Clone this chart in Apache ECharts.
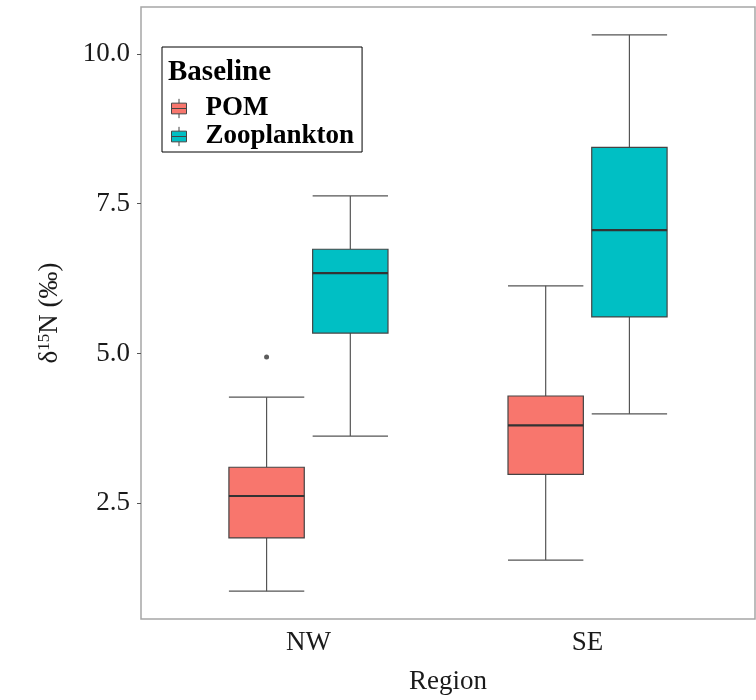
<!DOCTYPE html>
<html>
<head>
<meta charset="utf-8">
<script src="https://cdn.jsdelivr.net/npm/echarts@6/dist/echarts.min.js"></script>
<style>
  html, body { margin: 0; padding: 0; background: #fff; }
  #chart { width: 756px; height: 700px; }
</style>
</head>
<body>
<div id="chart"></div>
<script>
// data (min, Q1, median, Q3, max)
const categories = ["NW", "SE"];
const seriesNames = ["POM", "Zooplankton"];
const pomStats = [
  [1.03, 1.92, 2.62, 3.10, 4.27],
  [1.55, 2.98, 3.80, 4.29, 6.13],
];
const zooStats = [
  [3.62, 5.34, 6.34, 6.74, 7.63],
  [3.99, 5.61, 7.06, 8.44, 10.32],
];
// outliers: [category index, value]
const pomOutliers = [[0, 4.94]];
const zooOutliers = [];
const yTicks = [2.5, 5.0, 7.5, 10.0];

const colors = ["#F8766D", "#00BFC4"];
const font = "'Liberation Serif', 'Times New Roman', serif";
const yMin = 0.566, yMax = 10.785;
const dodge = 0.15;   // offset of each box from the category centre (axis units)
const boxW = 0.27;    // box width (axis units)

function boxData(stats) {
  return stats.map((s, i) => [i + 1].concat(s));
}

function boxRenderer(offset) {
  return function (params, api) {
    const x = api.value(0) + offset;
    const left = api.coord([x - boxW / 2, 0])[0];
    const right = api.coord([x + boxW / 2, 0])[0];
    const cx = api.coord([x, 0])[0];
    const yv = [1, 2, 3, 4, 5].map((k) => api.coord([x, api.value(k)])[1]);
    const [pMin, pQ1, pMed, pQ3, pMax] = yv;
    const lineStyle = { stroke: "#555", lineWidth: 1.2 };
    return {
      type: "group",
      children: [
        { type: "line", shape: { x1: cx, y1: pMax, x2: cx, y2: pQ3 }, style: lineStyle },
        { type: "line", shape: { x1: cx, y1: pQ1, x2: cx, y2: pMin }, style: lineStyle },
        { type: "line", shape: { x1: left, y1: pMax, x2: right, y2: pMax }, style: lineStyle },
        { type: "line", shape: { x1: left, y1: pMin, x2: right, y2: pMin }, style: lineStyle },
        {
          type: "rect",
          shape: { x: left, y: pQ3, width: right - left, height: pQ1 - pQ3 },
          style: { fill: api.visual("color"), stroke: "#444", lineWidth: 1.2 },
        },
        { type: "line", shape: { x1: left, y1: pMed, x2: right, y2: pMed }, style: { stroke: "#333", lineWidth: 2.2 } },
      ],
    };
  };
}

const legendIcon = "path://M7,0L7,4M0,4L14,4L14,14L0,14ZM0,9L14,9M7,14L7,18";

const chart = echarts.init(document.getElementById("chart"));

const option = {
  backgroundColor: "#fff",
  animation: false,
  title: {
    text: "Baseline",
    left: 168,
    top: 58,
    padding: 0,
    textStyle: { fontFamily: font, fontSize: 29, fontWeight: "bold", color: "#000" },
  },
  legend: {
    data: seriesNames,
    orient: "vertical",
    left: 162,
    top: 47,
    padding: [48, 8, 2, 9],
    itemGap: 1,
    itemWidth: 15,
    itemHeight: 20,
    icon: legendIcon,
    symbolKeepAspect: true,
    borderColor: "#000",
    borderWidth: 1,
    itemStyle: { borderColor: "#444", borderWidth: 1 },
    textStyle: {
      fontFamily: font,
      fontSize: 27,
      fontWeight: "bold",
      color: "#000",
      padding: [0, 0, 0, 14],
      lineHeight: 27,
    },
  },
  grid: {
    left: 141,
    right: 1,
    top: 7,
    bottom: 78,
    show: true,
    borderColor: "#a6a6a6",
    borderWidth: 1.5,
  },
  xAxis: {
    type: "value",
    min: 0.4,
    max: 2.6,
    name: "Region",
    nameLocation: "middle",
    nameGap: 49,
    nameTextStyle: { fontFamily: font, fontSize: 27, color: "#1a1a1a" },
    axisLine: { show: false },
    axisTick: { show: false },
    splitLine: { show: false },
    axisLabel: {
      customValues: categories.map((c, i) => i + 1),
      formatter: (v) => categories[Math.round(v) - 1] || "",
      fontFamily: font,
      fontSize: 27,
      color: "#1a1a1a",
      margin: 10,
    },
  },
  yAxis: {
    type: "value",
    min: yMin,
    max: yMax,
    name: "{a|δ}{s|15}{a|N (‰)}",
    nameLocation: "middle",
    nameRotate: 90,
    nameGap: 78,
    nameTextStyle: {
      fontFamily: font,
      color: "#1a1a1a",
      rich: {
        a: { fontFamily: font, fontSize: 27, color: "#1a1a1a" },
        s: { fontFamily: font, fontSize: 17, color: "#1a1a1a", verticalAlign: "top", padding: [0, 0, 10, 0] },
      },
    },
    axisLine: { show: false },
    splitLine: { show: false },
    axisTick: {
      show: true,
      customValues: yTicks,
      length: 4,
      lineStyle: { color: "#555", width: 1 },
    },
    axisLabel: {
      customValues: yTicks,
      formatter: (v) => v.toFixed(1),
      fontFamily: font,
      fontSize: 27,
      color: "#1a1a1a",
      margin: 11,
    },
  },
  series: [
    {
      name: seriesNames[0],
      type: "custom",
      itemStyle: { color: colors[0] },
      renderItem: boxRenderer(-dodge),
      encode: { x: 0, y: [1, 2, 3, 4, 5] },
      data: boxData(pomStats),
      z: 2,
    },
    {
      name: seriesNames[1],
      type: "custom",
      itemStyle: { color: colors[1] },
      renderItem: boxRenderer(dodge),
      encode: { x: 0, y: [1, 2, 3, 4, 5] },
      data: boxData(zooStats),
      z: 2,
    },
    {
      name: seriesNames[0],
      type: "scatter",
      symbolSize: 5,
      itemStyle: { color: "#333" },
      data: pomOutliers.map(([i, v]) => [i + 1 - dodge, v]),
      z: 3,
    },
    {
      name: seriesNames[1],
      type: "scatter",
      symbolSize: 5,
      itemStyle: { color: "#333" },
      data: zooOutliers.map(([i, v]) => [i + 1 + dodge, v]),
      z: 3,
    },
  ],
};

chart.setOption(option);
</script>
</body>
</html>
